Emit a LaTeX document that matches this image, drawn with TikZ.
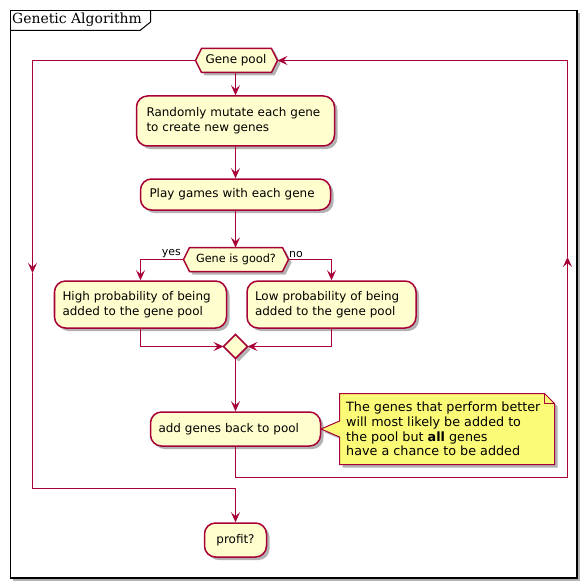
\documentclass[tikz,border=0pt]{standalone}
\usepackage{fontspec}
\setmainfont{DejaVu Sans}
\newfontfamily\titlefont{DejaVu Serif}
\usetikzlibrary{arrows.meta,shadows}
\definecolor{plborder}{HTML}{A80036}
\definecolor{plfill}{HTML}{FEFECE}
\definecolor{plnote}{HTML}{FBFB77}
\tikzset{
  shad/.style={drop shadow={opacity=0.3,shadow xshift=3bp,shadow yshift=-3bp,fill=black}},
  act/.style={draw=plborder,fill=plfill,line width=1.5bp,rounded corners=11bp,align=left,
    font=\fontsize{12}{15}\selectfont,inner sep=0pt,shad},
  hexa/.style={draw=plborder,fill=plfill,line width=1.5bp,shad},
  conn/.style={color=plborder,line width=1.5bp},
  arr/.style={conn,-{Stealth[length=10bp,width=9bp,inset=4bp]}},
  lbl/.style={font=\fontsize{11}{13}\selectfont,inner sep=1pt},
}
\begin{document}
\begin{tikzpicture}[x=1bp,y=-1bp]
\useasboundingbox (0,0) rectangle (587,588);
% frame
\fill[black,opacity=0.3] (13,13) rectangle (580,581);
\draw[line width=1.5bp,fill=white] (10.5,10.5) rectangle (577,578);
\draw[line width=1bp] (10.5,30.5) -- (140,30.5) -- (150.5,22) -- (150.5,10.5);
\node[anchor=west,inner sep=0pt,font=\titlefont\fontsize{14}{16}\selectfont] (title) at (12,20) {Genetic Algorithm};

% gene pool hexagon
\draw[hexa] (195.5,60.5) -- (201.5,48.5) -- (271.5,48.5) -- (277.5,60.5) -- (271.5,72.5) -- (201.5,72.5) -- cycle;
\node[font=\fontsize{12}{15}\selectfont] (gp) at (236,60.5) {Gene pool};
\coordinate (gpW) at (195.5,60.5);
\coordinate (gpE) at (277.5,60.5);
\coordinate (gpS) at (235.5,72.5);

\node[act,minimum width=198bp,minimum height=50bp,text width=178bp] (mut) at (235.5,121) {Randomly mutate each gene\\to create new genes};
\node[act,minimum width=190bp,minimum height=31bp,text width=172bp] (play) at (235.5,194.5) {Play games with each gene};

% decision hexagon
\draw[hexa] (183.5,259.5) -- (189.5,247.5) -- (282.5,247.5) -- (288.5,259.5) -- (282.5,271.5) -- (189.5,271.5) -- cycle;
\node[font=\fontsize{11.3}{13}\selectfont] (gig) at (236,259.5) {Gene is good?};
\coordinate (gigW) at (183.5,259.5);
\coordinate (gigE) at (288.5,259.5);
\coordinate (gigN) at (235.5,247.5);
\node[lbl,anchor=south east] (yes) at (182,259) {yes};
\node[lbl,anchor=south west] (no) at (288,259) {no};

\node[act,minimum width=172bp,minimum height=47bp,text width=156bp] (high) at (140.5,304.5) {High probability of being\\added to the gene pool};
\node[act,minimum width=169bp,minimum height=47bp,text width=153bp] (low) at (331.5,304.5) {Low probability of being\\added to the gene pool};

% merge diamond
\draw[hexa] (235.5,334.5) -- (247.5,346.5) -- (235.5,358.5) -- (223.5,346.5) -- cycle;
\coordinate (mgN) at (235.5,334.5);
\coordinate (mgS) at (235.5,358.5);
\coordinate (mgW) at (223.5,346.5);
\coordinate (mgE) at (247.5,346.5);

\node[act,minimum width=170bp,minimum height=34bp,text width=154bp] (add) at (235.5,429) {add genes back to pool};
\node[act,minimum width=62bp,minimum height=34bp,align=center] (profit) at (235.5,540) {profit?};

% note
\draw[draw=plborder,fill=plnote,line width=1bp,shad] (339.5,393.5) -- (544.5,393.5) -- (554.5,403.5) -- (554.5,464.5) -- (339.5,464.5) -- (339.5,437) -- (321,429) -- (339.5,421) -- cycle;
\draw[draw=plborder,line width=1bp] (544.5,393.5) -- (544.5,403.5) -- (554.5,403.5);
\node[anchor=west,align=left,inner sep=0pt,font=\fontsize{12.8}{14.8}\selectfont] (note) at (346,429) {The genes that perform better\\will most likely be added to\\the pool but \textbf{all} genes\\have a chance to be added};

% connectors
\draw[arr] (gpS) -- (mut.north);
\draw[arr] (mut.south) -- (play.north);
\draw[arr] (play.south) -- (gigN);
\draw[arr] (gigW) -| (high.north);
\draw[arr] (gigE) -| (low.north);
\draw[arr] (high.south) |- (mgW);
\draw[arr] (low.south) |- (mgE);
\draw[arr] (mgS) -- (add.north);
% loop back
\coordinate (rb) at (567.5,477.5);
\coordinate (rt) at (567.5,60.5);
\coordinate (rup) at (567.5,257);
\draw[conn] (add.south) |- (rb);
\draw[arr] (rb) -- (rup);
\draw[arr] (rup) -- (rt) -- (gpE);
% exit
\coordinate (lt) at (32.5,60.5);
\coordinate (ldn) at (32.5,273);
\coordinate (lb) at (32.5,488.5);
\coordinate (pb) at (235.5,488.5);
\draw[arr] (gpW) -- (lt) -- (ldn);
\draw[arr] (ldn) -- (lb) -- (pb) -- (profit.north);
\end{tikzpicture}
\end{document}
